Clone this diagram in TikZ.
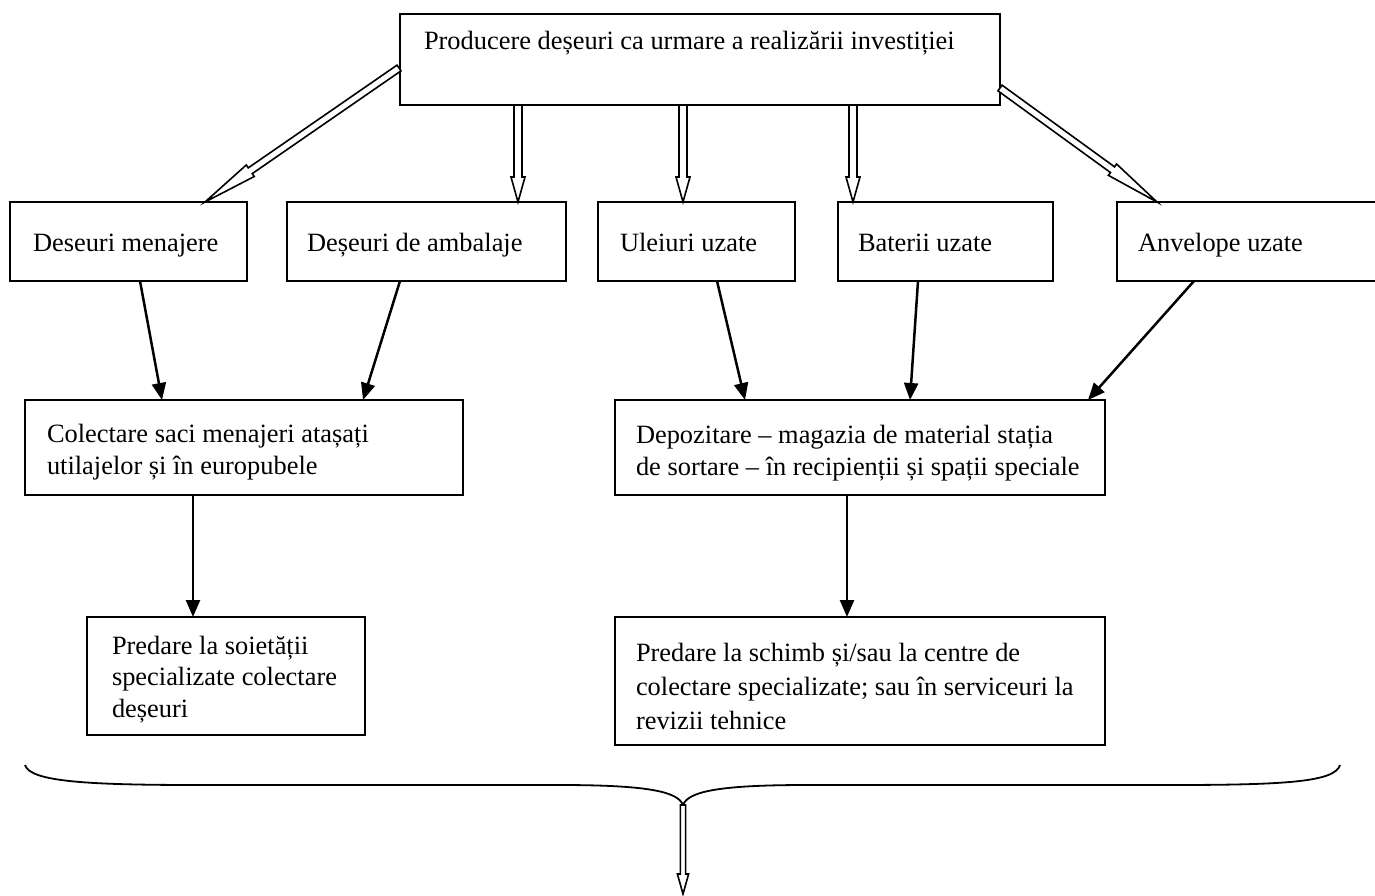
\documentclass[tikz,border=0pt]{standalone}
\usepackage{fontspec}
\setmainfont{Liberation Serif}
\usetikzlibrary{calc,arrows.meta}
\newcommand\mkbox[5]{\node[box, minimum width=#4pt, minimum height=#5pt] (#1) at (#2,#3) {};}
\newcommand\harr[6]{%
  \coordinate (#6h) at ($(#2)!#3!(#1)$);
  \draw[hol] ($(#1)!#4!90:(#2)$) -- ($(#6h)!#4!90:(#2)$) -- ($(#6h)!#5!90:(#2)$) -- (#2)
    -- ($(#6h)!#5!-90:(#2)$) -- ($(#6h)!#4!-90:(#2)$) -- ($(#1)!#4!-90:(#2)$) -- cycle;}
\begin{document}
\begin{tikzpicture}[x=0.5pt,y=-0.5pt,
  box/.style={draw, line width=0.9pt, anchor=north west, inner sep=0pt, outer sep=0pt},
  txt/.style={inner sep=0pt, outer sep=0pt, font=\fontsize{13.2}{16}\selectfont, align=left},
  arr/.style={line width=1.25pt, -{Triangle[length=8.5pt,width=7pt]}},
  hol/.style={draw, line width=0.8pt, fill=white, line join=miter}]
\useasboundingbox (0,0) rectangle (1375,895);
% boxes
\mkbox{top}{400}{14}{300}{45.5}
\mkbox{dm}{10}{202}{118.5}{39.5}
\mkbox{da}{287}{202}{139.5}{39.5}
\mkbox{ul}{598}{202}{98.5}{39.5}
\mkbox{bt}{838}{202}{107.5}{39.5}
\mkbox{an}{1117}{202}{139}{39.5}
\mkbox{col}{25}{400}{219}{47.5}
\mkbox{dep}{615}{400}{245}{47.5}
\mkbox{ps}{87}{617}{139}{59}
\mkbox{psch}{615}{617}{245}{64}
% texts
\node[txt, anchor=base west] (t0) at ($(top.north west)+(24,35)$) {Producere deșeuri ca urmare a realizării investiției};
\node[txt, anchor=base west] (t1) at ($(dm.south west)+(23,-30)$) {Deseuri menajere};
\node[txt, anchor=base west] (t2) at ($(da.south west)+(20,-30)$) {Deșeuri de ambalaje};
\node[txt, anchor=base west] (t3) at ($(ul.south west)+(22,-30)$) {Uleiuri uzate};
\node[txt, anchor=base west] (t4) at ($(bt.south west)+(20,-30)$) {Baterii uzate};
\node[txt, anchor=base west] (t5) at ($(an.south west)+(21,-30)$) {Anvelope uzate};
\node[txt, anchor=north west] (t6) at ($(col.north west)+(22,20)$) {\strut Colectare saci menajeri atașați\\utilajelor și în europubele};
\node[txt, anchor=north west] (t7) at ($(dep.north west)+(21,21)$) {\strut Depozitare – magazia de material stația\\de sortare – în recipienții și spații speciale};
\node[txt, anchor=north west, font=\fontsize{13.2}{15.8}\selectfont] (t8) at ($(ps.north west)+(25,15)$) {\strut Predare la soietății\\specializate colectare\\deșeuri};
\node[txt, anchor=north west, font=\fontsize{13.2}{17.2}\selectfont] (t9) at ($(psch.north west)+(21,20)$) {\strut Predare la schimb și/sau la centre de\\colectare specializate; sau în serviceuri la\\revizii tehnice};
% hollow arrows
\coordinate (hLs) at ($(top.north west)+(-1,54)$);
\coordinate (hLe) at ($(dm.north west)+(195,0)$);
\coordinate (h1s) at ($(top.south west)+(118,0)$);
\coordinate (h1e) at (h1s |- da.north);
\coordinate (h2s) at ($(top.south west)+(283,0)$);
\coordinate (h2e) at (h2s |- ul.north);
\coordinate (h3s) at ($(top.south west)+(453,0)$);
\coordinate (h3e) at (h3s |- bt.north);
\coordinate (hRs) at ($(top.north east)+(0,74)$);
\coordinate (hRe) at ($(an.north west)+(40,0)$);
\harr{hLs}{hLe}{27.5pt}{1.75pt}{3.5pt}{aL}
\harr{h1s}{h1e}{12.5pt}{2pt}{3.5pt}{a1}
\harr{h2s}{h2e}{12.5pt}{2pt}{3.5pt}{a2}
\harr{h3s}{h3e}{12.5pt}{2pt}{3.5pt}{a3}
\harr{hRs}{hRe}{27.5pt}{1.75pt}{3.5pt}{aR}
% black arrows
\draw[arr] ($(dm.south west)+(130,0)$) -- ($(col.north west)+(137,0)$);
\draw[arr] ($(da.south west)+(113,0)$) -- ($(col.north west)+(338,0)$);
\draw[arr] ($(ul.south west)+(119,0)$) -- ($(dep.north west)+(130,0)$);
\draw[arr] ($(bt.south west)+(80,0)$) -- ($(dep.north west)+(295,0)$);
\draw[arr] ($(an.south west)+(77,0)$) -- ($(dep.north west)+(473,0)$);
\coordinate (v1) at ($(col.south west)+(168,0)$);
\coordinate (v2) at ($(dep.south west)+(232,0)$);
\draw[arr] (v1) -- (v1 |- ps.north);
\draw[arr] (v2) -- (v2 |- psch.north);
% brace
\coordinate (cusp) at (683,805);
\coordinate (bend) at (683,894);
\draw[line width=0.9pt] (25,765) .. controls (30,782) and (90,785) .. (200,785) -- (560,785)
  .. controls (650,785) and (678,792) .. (cusp)
  .. controls (688,792) and (716,785) .. (806,785) -- (1170,785)
  .. controls (1285,785) and (1335,782) .. (1340,765);
\harr{cusp}{bend}{10pt}{1.3pt}{2.8pt}{aB}
\end{tikzpicture}
\end{document}
